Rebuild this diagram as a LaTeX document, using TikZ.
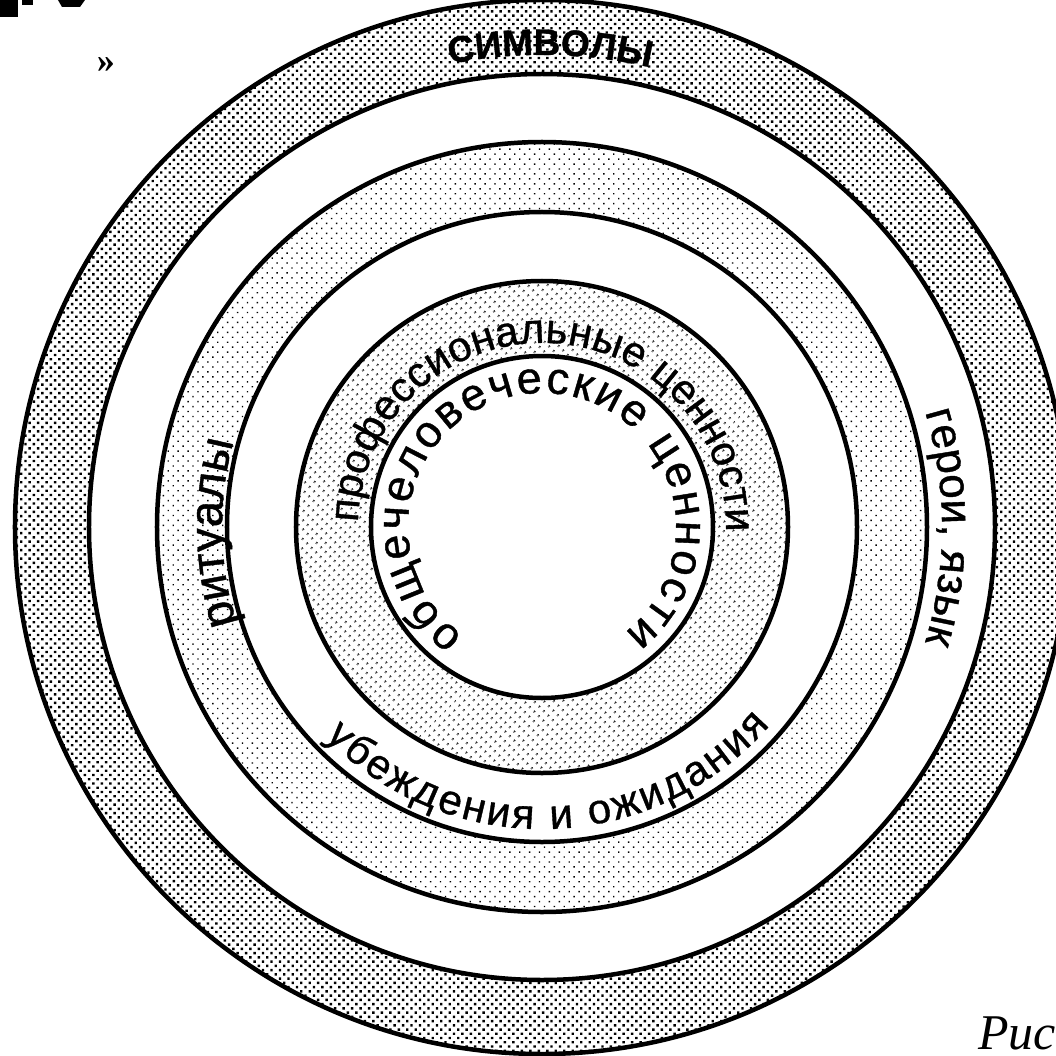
\documentclass[tikz,border=0pt]{standalone}
\usepackage{fontspec}
\setmainfont{Liberation Sans}
\newfontfamily\ringfont[FakeBold=0.9]{Liberation Sans}
\newfontfamily\capserif{Liberation Serif}
\usetikzlibrary{decorations.text,patterns.meta}
\tikzset{
  ringline/.style={line width=4.5pt},
  densedots/.style={pattern={Dots[distance=6pt,radius=1.7pt,angle=45]},pattern color=black},
  meddots/.style={pattern={Dots[distance=6.5pt,radius=1.2pt,angle=45]},pattern color=black},
  lightdots/.style={pattern={Dots[distance=7pt,radius=1.0pt,angle=45]},pattern color=black},
}
\begin{document}
\begin{tikzpicture}[x=1pt,y=1pt]
\useasboundingbox (-542,-528) rectangle (514,527);
\clip (-542,-528) rectangle (514,527);
\fill[white] (-542,-528) rectangle (514,527);
\coordinate (c) at (0,0);
% shaded rings
\path[densedots,even odd rule] (c) circle[radius=527] (c) circle[radius=453];
\path[lightdots,even odd rule] (c) circle[radius=385] (c) circle[radius=315];
\path[meddots,even odd rule] (c) circle[radius=246] (c) circle[radius=171];
% circles
\foreach \r in {171,246,315,385,453,527} \draw[ringline] (c) circle[radius=\r];
% texts along circles
\path[decorate,decoration={text along path,text align=center,
  text={|\ringfont\bfseries\fontsize{37}{40}\selectfont|СИМВОЛЫ}}]
  (125:472) arc[start angle=125,end angle=53,radius=472];
\path[decorate,decoration={text along path,text align=center,
  text={|\ringfont\fontsize{44}{46}\selectfont|герои, язык}}]
  (40:400) arc[start angle=40,end angle=-40,radius=400];
\path[decorate,decoration={text along path,text align=center,
  text={|\ringfont\fontsize{47}{49}\selectfont|ритуалы}}]
  (215:320) arc[start angle=215,end angle=147,radius=320];
\path[decorate,decoration={text along path,text align=center,
  text={|\ringfont\fontsize{42}{44}\selectfont|профессиональные ценности}}]
  (230:184) arc[start angle=230,end angle=-53,radius=184];
\path[decorate,decoration={text along path,text align=fit to path,
  text={|\ringfont\fontsize{45}{47}\selectfont|общечеловеческие ценности}}]
  (234:134) arc[start angle=234,end angle=-52,radius=134];
\path[decorate,decoration={text along path,text align=fit to path,
  text={|\ringfont\fontsize{42}{44}\selectfont|убеждения и ожидания}}]
  (224:302) arc[start angle=224,end angle=319,radius=302];
% other marks
\node[font=\capserif\bfseries\fontsize{36}{38}\selectfont] (quote) at (-436,462) {»};
\node[font=\capserif\itshape\fontsize{50}{52}\selectfont,anchor=base west,inner sep=0pt] (fig) at (436,-522) {Рис.};
\fill (-542,527) rectangle (-524,510);
\fill (-520,527) rectangle (-509,522);
\fill (-484,527) -- (-457,527) -- (-462,520) -- (-480,520) -- cycle;
\end{tikzpicture}
\end{document}
